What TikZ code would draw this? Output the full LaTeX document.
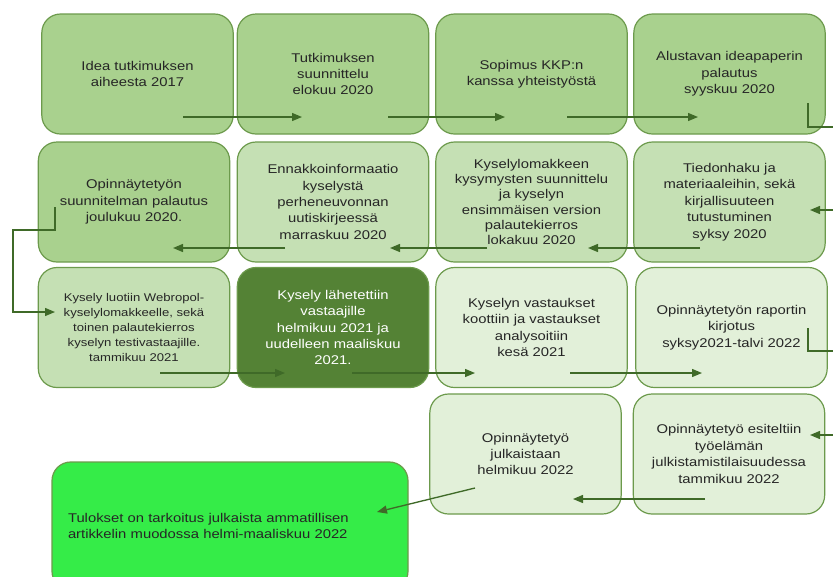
\documentclass[tikz,border=0pt]{standalone}
\usepackage{fontspec}
\setmainfont[FakeStretch=1.17]{Liberation Sans}
\usetikzlibrary{arrows.meta}
\definecolor{vihrea}{HTML}{A9D18E}
\definecolor{vaalea}{HTML}{C5E0B4}
\definecolor{haalea}{HTML}{E2F0D9}
\definecolor{tumma}{HTML}{548235}
\definecolor{kirkas}{HTML}{35EC48}
\definecolor{reuna}{HTML}{6C9A4C}
\definecolor{nuoli}{HTML}{3F6A28}

\begin{document}
\begin{tikzpicture}[x=0.75pt, y=-0.75pt,
		laatikko/.style={draw=reuna, line width=0.9pt, rounded corners=14pt, align=center, minimum width=143.5pt, minimum height=90pt, inner sep=2pt, text=black!85, font=\fontsize{9.5}{12.3}\selectfont},
		viiva/.style={draw=nuoli, line width=1pt},
		nuolet/.style={viiva, -{Triangle[length=7.5pt,width=6pt]}}]
				\useasboundingbox (0,0) rectangle (833,576);
				
				% Ensimmäinen rivi
				\node[laatikko, fill=vihrea] (idea) at (137.5,74) {Idea tutkimuksen\\aiheesta 2017};
				\node[laatikko, fill=vihrea] (suunn) at (333,74) {Tutkimuksen\\suunnittelu\\elokuu 2020};
				\node[laatikko, fill=vihrea] (sopimus) at (531.5,74) {Sopimus KKP:n\\kanssa yhteistyöstä};
				\node[laatikko, fill=vihrea] (ideapaperi) at (729.5,74) {Alustavan ideapaperin\\palautus\\syyskuu 2020};
				
				% Toinen rivi
				\node[laatikko, fill=vihrea] (suunnitelma) at (134,202) {Opinnäytetyön\\suunnitelman palautus\\joulukuu 2020.};
				\node[laatikko, fill=vaalea] (ennakko) at (333,202) {Ennakkoinformaatio\\kyselystä\\perheneuvonnan\\uutiskirjeessä\\marraskuu 2020};
				\node[laatikko, fill=vaalea, font=\fontsize{9.5}{11.4}\selectfont] (lomake) at (531.5,202) {Kyselylomakkeen\\kysymysten suunnittelu\\ja kyselyn\\ensimmäisen version\\palautekierros\\lokakuu 2020};
				\node[laatikko, fill=vaalea] (tiedonhaku) at (729.5,202) {Tiedonhaku ja\\materiaaleihin, sekä\\kirjallisuuteen\\tutustuminen\\syksy 2020};
				
				% Kolmas rivi
				\node[laatikko, fill=vaalea, font=\fontsize{8.4}{11.2}\selectfont] (webropol) at (134,327.5) {Kysely luotiin Webropol-\\kyselylomakkeelle, sekä\\toinen palautekierros\\kyselyn testivastaajille.\\tammikuu 2021};
				\node[laatikko, fill=tumma, text=white] (lahetys) at (333,327.5) {Kysely lähetettiin\\vastaajille\\helmikuu 2021 ja\\uudelleen maaliskuu\\2021.};
				\node[laatikko, fill=haalea] (vastaukset) at (531.5,327.5) {Kyselyn vastaukset\\koottiin ja vastaukset\\analysoitiin\\kesä 2021};
				\node[laatikko, fill=haalea] (raportti) at (731.5,327.5) {Opinnäytetyön raportin\\kirjotus\\syksy2021-talvi 2022};
				
				% Neljäs rivi
				\node[laatikko, fill=haalea] (julkaisu) at (525.5,454) {Opinnäytetyö\\julkaistaan\\helmikuu 2022};
				\node[laatikko, fill=haalea] (julkistus) at (729,454) {Opinnäytetyö esiteltiin\\työelämän\\julkistamistilaisuudessa\\tammikuu 2022};
				\node[laatikko, fill=kirkas, align=left, text width=243pt, inner xsep=12pt, minimum height=96pt] (artikkeli) at (230,526) {Tulokset on tarkoitus julkaista ammatillisen\\artikkelin muodossa helmi-maaliskuu 2022};
				
				% Reunan yli menevät päät
				\coordinate (oikea1) at (840,127);
				\coordinate (oikea2) at (840,210);
				\coordinate (oikea3) at (840,351);
				\coordinate (oikea4) at (840,435);
				
				% Nuolet
				\draw[nuolet] ([shift={(45.5,43)}]idea.center) -- ([shift={(-31,43)}]suunn.center);
				\draw[nuolet] ([shift={(55,43)}]suunn.center) -- ([shift={(-26.5,43)}]sopimus.center);
				\draw[nuolet] ([shift={(35.5,43)}]sopimus.center) -- ([shift={(-31.5,43)}]ideapaperi.center);
				\draw[viiva] ([shift={(78.5,29)}]ideapaperi.center) |- (oikea1);
				\draw[nuolet] (oikea2) -- ([shift={(80.5,8)}]tiedonhaku.center);
				\draw[nuolet] ([shift={(-29.5,46)}]tiedonhaku.center) -- ([shift={(56.5,46)}]lomake.center);
				\draw[nuolet] ([shift={(-44.5,46)}]lomake.center) -- ([shift={(57,46)}]ennakko.center);
				\draw[nuolet] ([shift={(-48,46)}]ennakko.center) -- ([shift={(39,46)}]suunnitelma.center);
				\draw[nuolet] ([shift={(-79,5)}]suunnitelma.center) -- ++(0,23) -- ++(-42,0) |- ([shift={(-79,-15.5)}]webropol.center);
				\draw[nuolet] ([shift={(26,45.5)}]webropol.center) -- ([shift={(-48,45.5)}]lahetys.center);
				\draw[nuolet] ([shift={(19,45.5)}]lahetys.center) -- ([shift={(-56.5,45.5)}]vastaukset.center);
				\draw[nuolet] ([shift={(38.5,45.5)}]vastaukset.center) -- ([shift={(-29.5,45.5)}]raportti.center);
				\draw[viiva] ([shift={(76.5,0.5)}]raportti.center) |- (oikea3);
				\draw[nuolet] (oikea4) -- ([shift={(81,-19)}]julkistus.center);
				\draw[nuolet] ([shift={(-24,45)}]julkistus.center) -- ([shift={(47.5,45)}]julkaisu.center);
				\draw[nuolet] ([shift={(-50.5,34)}]julkaisu.center) -- ([shift={(147,-14)}]artikkeli.center);
			\end{tikzpicture}
\end{document}
